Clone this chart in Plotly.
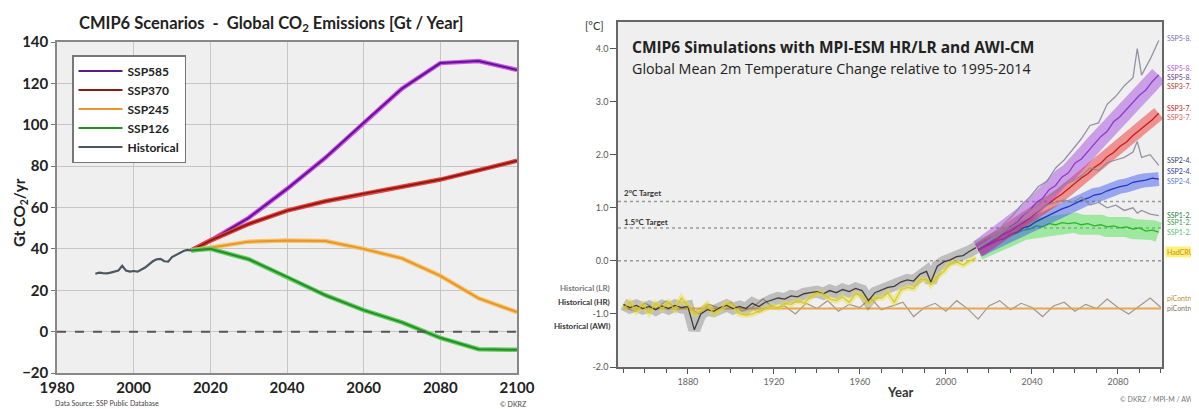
import plotly.graph_objects as go

# The page body has an 8px default margin: the figure is sized/positioned to compensate.
OFF = 8
W, H = 1199 - OFF, 409 - OFF
def px(x): return (x - OFF) / W
def py(y): return 1 - (y - OFF) / H

FONT = "Lato"

# ---------------- Left panel data: CO2 emissions ----------------
hist_years = [1990, 1991, 1992, 1993, 1994, 1995, 1996, 1997, 1998, 1999, 2000, 2001, 2002,
              2003, 2004, 2005, 2006, 2007, 2008, 2009, 2010, 2011, 2012, 2013, 2014, 2015]
hist_emis = [28.0, 28.5, 28.3, 28.2, 28.5, 29.0, 29.5, 31.8, 29.5, 29.0, 29.3, 29.0, 30.0,
             31.0, 32.5, 34.0, 35.0, 35.2, 34.0, 33.8, 36.0, 37.0, 38.0, 39.0, 39.5, 39.2]
scen_years = [2015, 2020, 2030, 2040, 2050, 2060, 2070, 2080, 2090, 2100]
ssp585_emis = [39.2, 44.0, 55.0, 69.0, 84.0, 101.0, 117.5, 129.8, 130.8, 126.5]
ssp370_emis = [39.2, 44.0, 52.0, 58.5, 63.0, 66.7, 70.0, 73.5, 78.0, 82.6]
ssp245_emis = [39.2, 40.5, 43.5, 44.0, 43.8, 40.0, 35.4, 27.0, 16.1, 9.4]
ssp126_emis = [39.2, 40.0, 35.0, 26.5, 17.6, 10.4, 4.5, -3.0, -8.5, -8.8]
left_names = ["SSP585", "SSP370", "SSP245", "SSP126", "Historical"]
left_xticks = [1980, 2000, 2020, 2040, 2060, 2080, 2100]
left_yticks = [-20, 0, 20, 40, 60, 80, 100, 120, 140]
zero_level = 0

# ---------------- Right panel data: temperature change ----------------
t_hist_years = [1850, 1853, 1856, 1859, 1862, 1865, 1868, 1871, 1874, 1877,
                1880, 1883, 1886, 1889, 1892, 1895, 1898, 1901, 1904, 1907,
                1910, 1913, 1916, 1919, 1922, 1925, 1928, 1931, 1934, 1937,
                1940, 1943, 1946, 1949, 1952, 1955, 1958, 1961, 1964, 1967,
                1970, 1973, 1976, 1979, 1982, 1985, 1988, 1991, 1993, 1996,
                1999, 2002, 2005, 2008, 2011, 2014]
t_hist_model = [-0.82, -0.88, -0.84, -0.9, -0.86, -0.92, -0.85, -0.9, -0.84, -0.88,
                -0.86, -1.3, -1.0, -0.92, -0.95, -0.88, -0.84, -0.9, -0.86, -0.9,
                -0.8, -0.86, -0.78, -0.74, -0.7, -0.72, -0.66, -0.68, -0.62, -0.6,
                -0.58, -0.62, -0.56, -0.6, -0.54, -0.58, -0.52, -0.56, -0.75, -0.6,
                -0.55, -0.5, -0.48, -0.4, -0.36, -0.38, -0.25, -0.2, -0.4, -0.1,
                -0.02, 0.02, 0.08, 0.1, 0.18, 0.25]
t_hadcrut = [-0.9, -0.78, -0.95, -0.82, -0.98, -0.8, -0.9, -0.78, -0.92, -0.7,
             -0.85, -1.0, -0.95, -0.82, -1.0, -0.92, -0.8, -0.85, -1.0, -1.02,
             -1.0, -0.95, -0.9, -0.85, -0.88, -0.8, -0.82, -0.75, -0.8, -0.68,
             -0.6, -0.62, -0.72, -0.75, -0.68, -0.78, -0.62, -0.66, -0.8, -0.7,
             -0.7, -0.6, -0.78, -0.55, -0.5, -0.52, -0.35, -0.35, -0.45, -0.3,
             -0.2, -0.05, -0.02, -0.08, 0.0, 0.05]

ssp_years = [2015, 2018, 2021, 2024, 2027, 2030, 2033, 2036, 2039, 2042, 2045, 2048, 2051, 2054,
             2057, 2060, 2063, 2066, 2069, 2072, 2075, 2078, 2081, 2084, 2087, 2090, 2093, 2096, 2099]
t_ssp585 = [0.22, 0.30, 0.36, 0.48, 0.52, 0.64, 0.72, 0.86, 0.95, 1.1, 1.18, 1.34, 1.42, 1.58,
            1.66, 1.84, 1.92, 2.06, 2.2, 2.34, 2.44, 2.62, 2.72, 2.86, 2.98, 3.12, 3.22, 3.38, 3.5]
t_ssp370 = [0.2, 0.28, 0.34, 0.42, 0.5, 0.56, 0.64, 0.72, 0.8, 0.9, 1.0, 1.08, 1.18, 1.26,
            1.36, 1.46, 1.56, 1.64, 1.76, 1.84, 1.96, 2.04, 2.16, 2.24, 2.36, 2.46, 2.56, 2.66, 2.78]
t_ssp245 = [0.2, 0.26, 0.32, 0.38, 0.42, 0.5, 0.54, 0.62, 0.66, 0.74, 0.8, 0.86, 0.92, 0.98,
            1.02, 1.08, 1.14, 1.18, 1.24, 1.26, 1.32, 1.36, 1.40, 1.42, 1.48, 1.5, 1.52, 1.56, 1.54]
t_ssp126 = [0.2, 0.27, 0.33, 0.4, 0.42, 0.48, 0.52, 0.58, 0.6, 0.66, 0.64, 0.7, 0.68, 0.72,
            0.7, 0.72, 0.68, 0.7, 0.66, 0.68, 0.64, 0.66, 0.62, 0.64, 0.6, 0.62, 0.56, 0.58, 0.54]

awi_years = [2015, 2019, 2023, 2027, 2031, 2035, 2039, 2043, 2047, 2051, 2055, 2059,
             2063, 2067, 2071, 2075, 2079, 2083, 2087, 2089, 2091, 2095, 2099]
t_awi585 = [0.25, 0.35, 0.5, 0.7, 0.85, 1.05, 1.2, 1.4, 1.5, 1.75, 1.9, 2.1,
            2.3, 2.55, 2.6, 2.95, 3.1, 3.3, 3.45, 4.0, 3.5, 3.8, 4.15]
t_awi245 = [0.25, 0.35, 0.45, 0.6, 0.7, 0.85, 0.95, 1.05, 1.2, 1.3, 1.45, 1.5,
            1.6, 1.75, 1.7, 1.85, 1.9, 1.95, 2.05, 2.25, 1.95, 2.0, 1.8]
t_awi126 = [0.25, 0.35, 0.45, 0.55, 0.65, 0.75, 0.85, 0.95, 1.05, 1.1, 1.15, 1.1,
            1.2, 1.05, 1.1, 1.0, 1.05, 0.95, 1.0, 0.9, 0.95, 0.88, 0.85]

pic_years = list(range(1850, 2101, 5))
t_picontrol = [-0.85, -0.95, -0.8, -0.9, -0.75, -0.92, -0.85, -1.0, -0.82, -0.9,
               -0.78, -0.95, -0.88, -0.72, -0.9, -0.85, -1.0, -0.8, -0.9, -0.75,
               -0.95, -0.82, -0.88, -0.7, -0.92, -0.85, -0.78, -1.05, -0.88, -0.8,
               -0.95, -0.75, -0.9, -1.1, -0.85, -0.75, -0.92, -0.8, -0.88, -1.05,
               -0.85, -0.78, -0.95, -0.82, -0.9, -0.72, -0.88, -1.0, -0.85, -0.7, -0.88]
pic_flat_years = [1850, 2100]
t_pic_flat = [-0.9, -0.9]

target_levels = [1.12, 0.62, 0.0]
target_labels = ["2°C Target", "1.5°C Target"]
right_xticks = [1880, 1920, 1960, 2000, 2040, 2080]
right_yticks = [-2, -1, 0, 1, 2, 3, 4]
right_ytext = ["-2.0", "-1.0", "0.0", "1.0", "2.0", "3.0", "4.0"]

right_labels = ["SSP5-8.5", "SSP5-8.5", "SSP5-8.5", "SSP3-7.0",
                "SSP3-7.0", "SSP3-7.0", "SSP2-4.5", "SSP2-4.5",
                "SSP2-4.5", "SSP1-2.6", "SSP1-2.6", "SSP1-2.6",
                "HadCRUT", "piControl", "piControl"]
right_label_y = [38, 68, 77, 86, 108, 117, 160, 171, 181, 215, 222, 232, 252, 298, 308]
right_label_col = ["#7a70b0", "#b060e0", "#6a3a8a", "#b04030", "#d02020", "#e06060",
                   "#303a70", "#2a3aa0", "#5a7ad0", "#2a7a3a", "#3aa04a", "#60c070",
                   "#d08a10", "#c09030", "#807060"]
hist_labels = ["Historical (LR)", "Historical (HR)", "Historical (AWI)"]
hist_label_y = [288, 302, 326]
hist_label_col = ["#777777", "#333333", "#333333"]

fig = go.Figure()

# ---------- Left panel traces ----------
left_series = [
    (ssp585_emis, "#d64cf0", "#5a1a8c"),
    (ssp370_emis, "#e8453a", "#8b1a1a"),
    (ssp245_emis, "#f7c46a", "#e6962c"),
    (ssp126_emis, "#5ed05e", "#2a8a2a"),
]
for (vals, halo, core), name in zip(left_series, left_names[:4]):
    fig.add_trace(go.Scatter(x=scen_years, y=vals, mode="lines", xaxis="x", yaxis="y",
                             line=dict(color=halo, width=4.5), showlegend=False, hoverinfo="skip"))
    fig.add_trace(go.Scatter(x=scen_years, y=vals, mode="lines", xaxis="x", yaxis="y",
                             line=dict(color=core, width=2), name=name))
fig.add_trace(go.Scatter(x=hist_years, y=hist_emis, mode="lines", xaxis="x", yaxis="y",
                         line=dict(color="#4a5660", width=2.2), name=left_names[4]))

# ---------- Right panel traces ----------
def band(xs, ys, color, width, opacity):
    fig.add_trace(go.Scatter(x=xs, y=ys, mode="lines", xaxis="x2", yaxis="y2", opacity=opacity,
                             line=dict(color=color, width=width), showlegend=False, hoverinfo="skip"))

# piControl
band(pic_years, t_picontrol, "#9a8f80", 1.2, 0.9)
band(pic_flat_years, t_pic_flat, "#e8a040", 2, 0.9)
# historical
band(t_hist_years, t_hist_model, "#505050", 12, 0.3)
band(t_hist_years, t_hadcrut, "#e8e040", 6, 0.45)
band(t_hist_years, t_hist_model, "#303030", 1.3, 0.9)
band(t_hist_years, t_hadcrut, "#d8c820", 1.3, 0.9)
# scenarios
for ys, c_band, c_line, w in [(t_ssp126, "#40e040", "#20b020", 20),
                              (t_ssp245, "#3050f0", "#1a2ab0", 14),
                              (t_ssp370, "#f02020", "#c01010", 14),
                              (t_ssp585, "#a040e0", "#8a30c8", 18)]:
    band(ssp_years, ys, c_band, w, 0.45)
    band(ssp_years, ys, c_line, 1.3, 0.9)
for ys in [t_awi126, t_awi245, t_awi585]:
    band(awi_years, ys, "#8a8a9a", 1.3, 0.9)

# ---------- Layout ----------
fig.update_layout(
    width=W, height=H, margin=dict(l=0, r=0, t=0, b=0, pad=0, autoexpand=False),
    paper_bgcolor="white", plot_bgcolor="#efefef",
    font=dict(family=FONT, color="#222"),
    showlegend=True,
    legend=dict(x=px(72), y=py(55), xanchor="left", yanchor="top", bgcolor="white",
                bordercolor="#777", borderwidth=1.5, tracegroupgap=0, itemwidth=44,
                font=dict(family=FONT, size=12, color="#222", weight="bold")),
    xaxis=dict(domain=[px(57), px(517)], range=[1980, 2100], tickvals=left_xticks,
               showgrid=True, gridcolor="#c6c6c6", gridwidth=1, zeroline=False,
               showline=True, mirror=True, linecolor="#888", linewidth=1.5, automargin=False,
               ticks="", tickfont=dict(size=15, weight="bold", color="#222"), anchor="y"),
    yaxis=dict(domain=[py(373), py(42)], range=[-20, 140], tickvals=left_yticks,
               showgrid=True, gridcolor="#c6c6c6", gridwidth=1, zeroline=False,
               showline=True, mirror=True, linecolor="#888", linewidth=1.5, automargin=False,
               ticks="outside", ticklen=4, tickcolor="#777",
               tickfont=dict(size=15, weight="bold", color="#222"), anchor="x"),
    xaxis2=dict(domain=[px(618), px(1162)], range=[1847.5, 2100.5], tickvals=right_xticks,
                ticktext=[str(v) for v in right_xticks], showgrid=False, zeroline=False,
                showline=True, mirror=True, linecolor="#666", linewidth=1.5, automargin=False,
                ticks="outside", ticklen=5, tickcolor="#555",
                minor=dict(dtick=10, ticks="outside", ticklen=4, tickcolor="#555"),
                tickfont=dict(size=9, color="#666"), anchor="y2"),
    yaxis2=dict(domain=[py(367), py(22)], range=[-2, 4.5], tickvals=right_yticks,
                ticktext=right_ytext, showgrid=False, zeroline=False,
                showline=True, mirror=True, linecolor="#666", linewidth=1.5, automargin=False,
                ticks="outside", ticklen=6, tickcolor="#555",
                tickfont=dict(size=9, color="#555"), anchor="x2"),
)

fig.add_shape(type="line", xref="x domain", yref="y", x0=0, x1=1, y0=zero_level, y1=zero_level,
              line=dict(color="#555", width=2, dash="dash"))
for lv in target_levels:
    fig.add_shape(type="line", xref="x2 domain", yref="y2", x0=0, x1=1, y0=lv, y1=lv,
                  line=dict(color="#9a9a9a", width=1.5, dash="dot"), layer="below")

ann = []
ann.append(dict(x=px(271), y=py(23), text="CMIP6 Scenarios  -  Global CO<sub>2</sub> Emissions [Gt / Year]",
                font=dict(size=16.5, weight="bold", color="#222")))
ann.append(dict(x=px(20), y=py(213), text="Gt CO<sub>2</sub>/yr", textangle=-90,
                font=dict(size=15, weight="bold", color="#222")))
ann.append(dict(x=px(53), y=py(403), text="Data Source: SSP Public Database", xanchor="left",
                font=dict(size=7, color="#444")))
ann.append(dict(x=px(513), y=py(404), text="© DKRZ", font=dict(size=7, color="#444")))
ann.append(dict(x=px(630), y=py(47), text="CMIP6 Simulations with MPI-ESM HR/LR and AWI-CM", xanchor="left",
                font=dict(family="Open Sans", size=15.5, weight="bold", color="#222")))
ann.append(dict(x=px(630), y=py(68), text="Global Mean 2m Temperature Change relative to 1995-2014",
                xanchor="left", font=dict(family="Open Sans", size=14.3, color="#222")))
ann.append(dict(x=px(594), y=py(25), text="[°C]", font=dict(size=11, color="#333")))
ann.append(dict(x=px(900), y=py(392), text="Year", font=dict(size=13, weight="bold", color="#333")))
ann.append(dict(x=px(1197), y=py(399), text="© DKRZ / MPI-M / AWI", xanchor="right",
                font=dict(size=7, color="#777")))
for txt, yy in zip(target_labels, [193, 222]):
    ann.append(dict(x=px(622), y=py(yy), text=txt, xanchor="left",
                    font=dict(size=8, weight="bold", color="#333")))
for txt, yy, col in zip(right_labels, right_label_y, right_label_col):
    d = dict(x=px(1165), y=py(yy), text=txt, xanchor="left", font=dict(size=7, color=col))
    if txt == "HadCRUT":
        d["bgcolor"] = "#fff27a"
    ann.append(d)
for txt, yy, col in zip(hist_labels, hist_label_y, hist_label_col):
    ann.append(dict(x=px(612), y=py(yy), text=txt, xanchor="right",
                    font=dict(size=8, weight="bold", color=col)))
for a in ann:
    a.setdefault("xanchor", "center")
    a.update(xref="paper", yref="paper", showarrow=False, yanchor="middle")
    fig.add_annotation(**a)

fig.write_html("out.html")
